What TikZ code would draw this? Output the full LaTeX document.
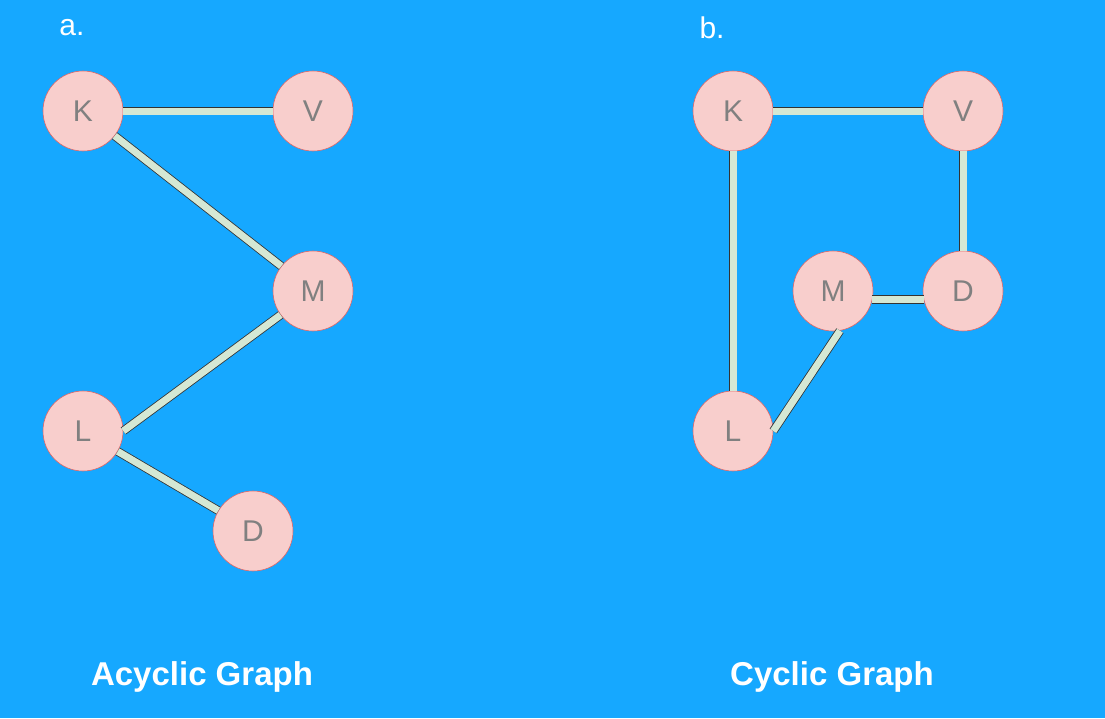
\documentclass[tikz,border=0pt]{standalone}
\usepackage{fontspec}
\setmainfont{Liberation Sans}
\definecolor{bg}{HTML}{16A8FF}
\definecolor{nfill}{HTML}{F8CECC}
\definecolor{nline}{HTML}{E06666}
\definecolor{bfill}{HTML}{D5E8D4}
\begin{document}
\begin{tikzpicture}[x=1pt,y=-1pt,
  vtx/.style={circle,fill=nfill,draw=nline,line width=0.6pt,minimum size=80pt,inner sep=0pt,text=gray,font=\fontsize{30}{30}\selectfont},
  bar/.style={draw=black!80,line width=0.8pt,double=bfill,double distance=7pt},
  lbl/.style={text=white,font=\fontsize{30}{30}\selectfont},
  ttl/.style={text=white,font=\fontsize{33}{33}\selectfont\bfseries}]
\fill[bg] (0,0) rectangle (1105,718);
\useasboundingbox (0,0) rectangle (1105,718);
\node[lbl] (la) at (72,28) {a.};
\node[lbl] (lb) at (712,28) {b.};
\node[ttl] (ta) at (202,677) {Acyclic Graph};
\node[ttl] (tb) at (832,677) {Cyclic Graph};
% graph a
\node[vtx] (aK) at (83,111) {K};
\node[vtx] (aV) at (313,111) {V};
\node[vtx] (aM) at (313,291) {M};
\node[vtx] (aL) at (83,431) {L};
\node[vtx] (aD) at (253,531) {D};
\draw[bar] (aK) -- (aV);
\draw[bar] (aK) -- (aM);
\draw[bar] (aL.east) -- (aM);
\draw[bar] (aL) -- (aD);
% graph b
\node[vtx] (bK) at (733,111) {K};
\node[vtx] (bV) at (963,111) {V};
\node[vtx] (bM) at (833,291) {M};
\node[vtx] (bD) at (963,291) {D};
\node[vtx] (bL) at (733,431) {L};
\draw[bar] (bK) -- (bV);
\draw[bar] (bV) -- (bD);
\draw[bar] (bK) -- (bL);
\draw[bar] (bM.-12) -- (bD.192);
\draw[bar] (bL.east) -- (bM.-80);
\end{tikzpicture}
\end{document}
